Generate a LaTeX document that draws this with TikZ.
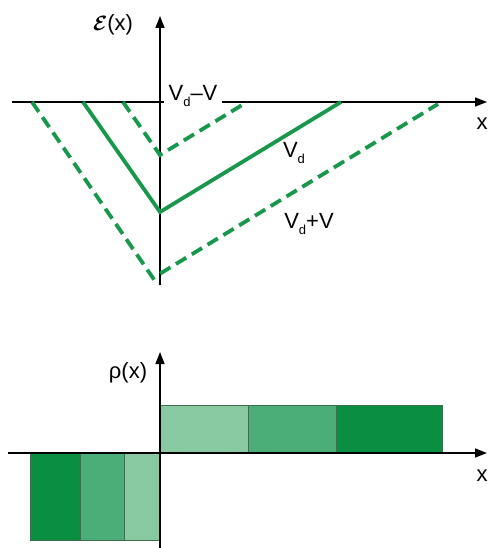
\documentclass[tikz,border=0pt]{standalone}
\usepackage{bm}
\usepackage{fontspec}
\setmainfont{Liberation Sans}
\usetikzlibrary{arrows.meta}
\definecolor{lgreen}{HTML}{17984A}
\definecolor{bdark}{HTML}{0A8F42}
\definecolor{bmed}{HTML}{4BAD77}
\definecolor{blight}{HTML}{88C9A1}
\definecolor{bedge}{HTML}{3C6E50}
\newcommand{\Vsub}{V\raisebox{-0.45ex}{\fontsize{13}{13}\selectfont d}}
\begin{document}
\begin{tikzpicture}[x=1pt,y=-1pt,
  axis/.style={line width=1.6pt,-{Triangle[length=12pt,width=9pt]}},
  plainaxis/.style={line width=1.6pt},
  curve/.style={lgreen,line width=3.8pt,line join=miter},
  dcurve/.style={curve,dash pattern=on 12pt off 6.5pt},
  lbl/.style={font=\fontsize{22}{26}\selectfont,inner sep=0pt},
  bar/.style={draw=bedge,line width=0.7pt}]
\useasboundingbox (0,0) rectangle (487,548);
% ---------- top plot ----------
\coordinate (tO) at (160,102);
\coordinate (tYbot) at (160,285);
\coordinate (tYtop) at (160,16);
\coordinate (tXl) at (12,102);
\coordinate (tXr) at (487,102);
\draw[plainaxis] (tYbot) -- (tO);
\draw[axis] (tO) -- (tYtop);
\draw[axis] (tXl) -- (tXr);
\node[lbl] (Elab) at (113,25) {$\bm{\mathcal{E}}$(x)};
\node[lbl] (xlab1) at (482,124) {x};
\node[lbl,fill=white,inner xsep=5pt,inner ysep=4pt] (lVm) at (193,96) {\Vsub–V};
% small dashed
\coordinate (s1) at (123,102);
\coordinate (s2) at (160,155);
\coordinate (s3) at (247,102);
\draw[dcurve] (s1) -- (s2) -- (s3);
% solid
\coordinate (m1) at (83,102);
\coordinate (m2) at (160,212);
\coordinate (m3) at (341,102);
\draw[curve] (m1) -- (m2) -- (m3);
% large dashed
\coordinate (b1) at (32,102);
\coordinate (b2) at (153,278);
\coordinate (b3) at (438,104);
\draw[dcurve] (b1) -- (b2) -- (b3);
\node[lbl] (lV) at (294,153) {\Vsub};
\node[lbl] (lVp) at (309,224) {\Vsub+V};
% ---------- bottom plot ----------
\draw[bar,fill=blight] (160,405) rectangle (248,453);
\draw[bar,fill=bmed] (248,405) rectangle (336,453);
\draw[bar,fill=bdark] (336,405) rectangle (442,453);
\draw[bar,fill=bdark] (30,453) rectangle (80,540);
\draw[bar,fill=bmed] (80,453) rectangle (124,540);
\draw[bar,fill=blight] (124,453) rectangle (160,540);
\coordinate (bO) at (160,453);
\coordinate (bYbot) at (160,548);
\coordinate (bYtop) at (160,352);
\coordinate (bXl) at (8,453);
\coordinate (bXr) at (487,453);
\draw[plainaxis] (bYbot) -- (bO);
\draw[axis] (bO) -- (bYtop);
\draw[axis] (bXl) -- (bXr);
\node[lbl] (rlab) at (128,373) {ρ(x)};
\node[lbl] (xlab2) at (482,476) {x};
\end{tikzpicture}
\end{document}
